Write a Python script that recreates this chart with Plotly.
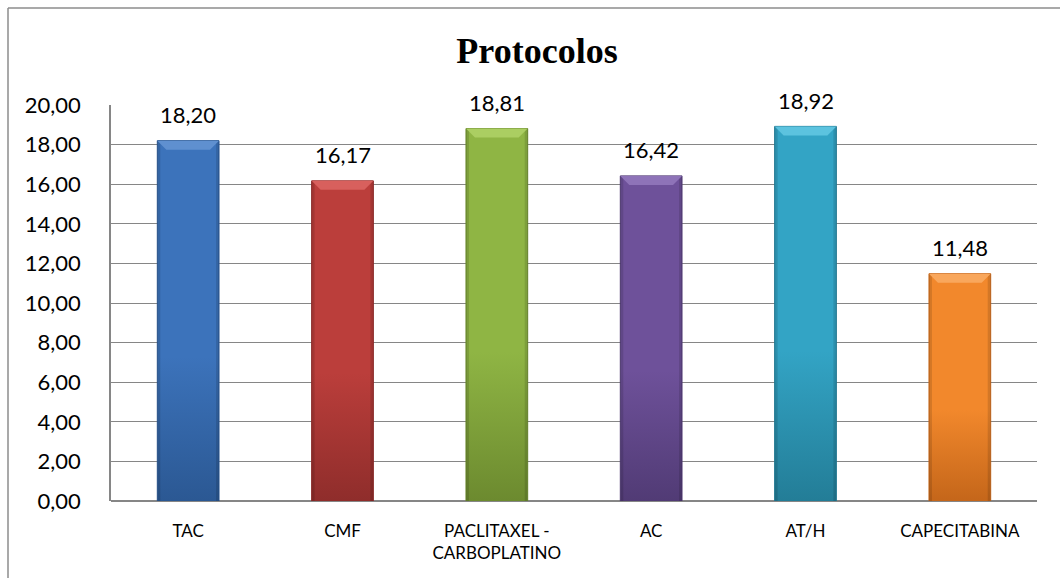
import plotly.graph_objects as go

# Protocol names and their values
categories = ["TAC", "CMF", "PACLITAXEL -<br>CARBOPLATINO", "AC", "AT/H", "CAPECITABINA"]
values = [18.20, 16.17, 18.81, 16.42, 18.92, 11.48]

# Per-bar colours: (bottom shade, main face, bevel highlight)
bar_colors = [
    ("#2b5893", "#3c73bb", "#5f90d0"),
    ("#8f2d2b", "#bb3e3b", "#d8605d"),
    ("#6c8a2f", "#8fb544", "#abce62"),
    ("#513b75", "#6e519a", "#8e73b8"),
    ("#237d97", "#33a4c5", "#5cc3df"),
    ("#c4661a", "#f2882c", "#f9a75c"),
]

y_ticks = [0, 2, 4, 6, 8, 10, 12, 14, 16, 18, 20]

W, H = 1060, 578
L, R, T, B = 111, 23, 105, 77
plot_w, plot_h = W - L - R, H - T - B
y_max = 20.0

bar_half = 0.20          # half bar width in category units
cat_px = plot_w / len(categories)
bevel_x = 9 / cat_px                 # bevel depth in x data units
bevel_y = 9 / (plot_h / y_max)       # bevel depth in y data units
edge_x = 3 / cat_px                  # darker side strip width

fig = go.Figure()

for i, (v, (dark, main, light)) in enumerate(zip(values, bar_colors)):
    x0, x1 = i - bar_half, i + bar_half
    # bar body with vertical shading
    fig.add_trace(go.Scatter(
        x=[x0, x1, x1, x0, x0], y=[0, 0, v, v, 0],
        mode="lines", fill="toself",
        line=dict(color=dark, width=1),
        fillgradient=dict(type="vertical",
                          colorscale=[[0, dark], [0.4, main], [1, main]]),
        hoverinfo="skip", showlegend=False,
    ))
    # left and right darker edges
    for xa, xb in ((x0, x0 + edge_x), (x1 - edge_x, x1)):
        fig.add_trace(go.Scatter(
            x=[xa, xb, xb, xa, xa], y=[0, 0, v, v, 0],
            mode="lines", fill="toself", line=dict(width=0),
            fillcolor="rgba(0,0,0,0.12)", hoverinfo="skip", showlegend=False,
        ))
    # top bevel
    fig.add_trace(go.Scatter(
        x=[x0, x1, x1 - bevel_x, x0 + bevel_x, x0],
        y=[v, v, v - bevel_y, v - bevel_y, v],
        mode="lines", fill="toself", line=dict(width=0),
        fillcolor=light, hoverinfo="skip", showlegend=False,
    ))
    # value label
    fig.add_annotation(
        x=i, y=v, text=f"{v:.2f}".replace(".", ","),
        showarrow=False, yanchor="middle", yshift=26,
        font=dict(family="Lato", size=22, color="#000000"),
    )

# outer chart frame: only the left and top sides lie within the page
frame_x = (8 - L) / plot_w
frame_y = 1 + (T - 8) / plot_h
frame_line = dict(color="#8c8c8c", width=1.5)
fig.add_shape(type="line", xref="paper", yref="paper",
              x0=frame_x, x1=frame_x, y0=frame_y, y1=-(H - T - plot_h + 20) / plot_h,
              line=frame_line, layer="below")
fig.add_shape(type="line", xref="paper", yref="paper",
              x0=frame_x, x1=(W + 20 - L) / plot_w, y0=frame_y, y1=frame_y,
              line=frame_line, layer="below")

fig.update_layout(
    width=W, height=H,
    margin=dict(l=L, r=R, t=T, b=B),
    paper_bgcolor="white", plot_bgcolor="white",
    separators=",.",
    title=dict(text="<b>Protocolos</b>", x=537 / W, xanchor="center",
               y=1 - 50 / H, yanchor="middle",
               font=dict(family="Liberation Serif", size=36, color="#000000")),
    xaxis=dict(
        range=[-0.5, len(categories) - 0.5],
        tickmode="array", tickvals=list(range(len(categories))), ticktext=categories,
        showgrid=False, zeroline=False, showline=False, ticks="",
        ticklabelstandoff=18,
        tickfont=dict(family="Lato", size=17, color="#000000"),
    ),
    yaxis=dict(
        range=[0, y_max], tickmode="array", tickvals=y_ticks, tickformat=".2f",
        showgrid=True, gridcolor="#868686", gridwidth=1,
        zeroline=True, zerolinecolor="#868686", zerolinewidth=1.5,
        showline=True, linecolor="#868686", linewidth=1.5, ticks="",
        ticklabelstandoff=24,
        tickfont=dict(family="Lato", size=22, color="#000000"),
    ),
)

fig.write_html("out.html")
